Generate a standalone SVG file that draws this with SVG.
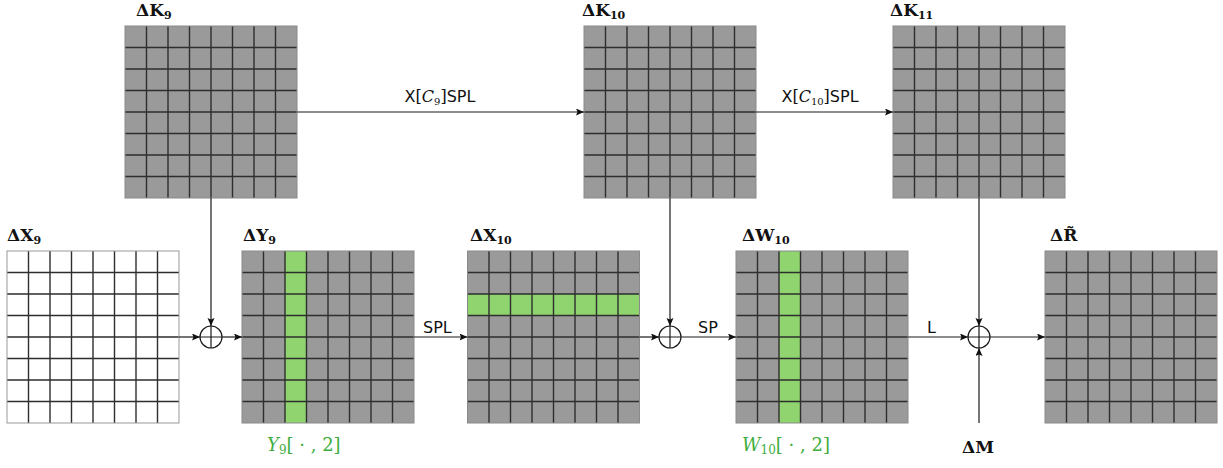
<svg xmlns="http://www.w3.org/2000/svg" width="1223" height="468" viewBox="0 0 1223 468">
<style>
.bg{fill:#9a9a9a}
.wbg{fill:#ffffff}
.hl{fill:#8fd46e}
.gl{fill:none;stroke:#2e2e2e;stroke-width:1.4}
.bd{fill:none;stroke:#8a8a8a;stroke-width:1}
.wbd{fill:none;stroke:#999;stroke-width:1}
.cn{fill:none;stroke:#1a1a1a;stroke-width:1.2}
.xo{fill:none;stroke:#1a1a1a;stroke-width:1.2}
.lbl{font-family:"DejaVu Serif","Liberation Serif",serif;font-weight:bold;font-size:17px;fill:#111}
.sub{font-size:11px}
.op{font-family:"DejaVu Sans","Liberation Sans",sans-serif;font-size:16px;fill:#111}
.mth{font-family:"DejaVu Serif","Liberation Serif",serif;fill:#111}
.grn{font-family:"DejaVu Serif","Liberation Serif",serif;font-size:18px;fill:#3fae3f}
</style>
<defs>
<marker id="arr" markerWidth="9" markerHeight="8" refX="8" refY="3.5" orient="auto" markerUnits="userSpaceOnUse">
<path d="M0,0 L8,3.5 L0,7 L1.5,3.5 z" fill="#111"/>
</marker>
<path id="lines" d="M21.5,0V172M43,0V172M64.5,0V172M86,0V172M107.5,0V172M129,0V172M150.5,0V172M0,21.5H172M0,43H172M0,64.5H172M0,86H172M0,107.5H172M0,129H172M0,150.5H172"/>
</defs>

<g id="K9">
<rect class="bg" x="125" y="26" width="172" height="172"/>
<use href="#lines" class="gl" x="125" y="26"/>
<rect class="bd" x="125" y="26" width="172" height="172"/>
<text class="lbl" x="136" y="16">ΔK<tspan class="sub" dy="3">9</tspan></text>
</g>

<g id="K10">
<rect class="bg" x="584" y="26" width="172" height="172"/>
<use href="#lines" class="gl" x="584" y="26"/>
<rect class="bd" x="584" y="26" width="172" height="172"/>
<text class="lbl" x="582" y="16">ΔK<tspan class="sub" dy="3">10</tspan></text>
</g>

<g id="K11">
<rect class="bg" x="893" y="26" width="172" height="172"/>
<use href="#lines" class="gl" x="893" y="26"/>
<rect class="bd" x="893" y="26" width="172" height="172"/>
<text class="lbl" x="890" y="16">ΔK<tspan class="sub" dy="3">11</tspan></text>
</g>

<g id="X9">
<rect class="wbg" x="7" y="251" width="172" height="172"/>
<use href="#lines" class="gl" x="7" y="251"/>
<rect class="wbd" x="7" y="251" width="172" height="172"/>
<text class="lbl" x="7" y="241">ΔX<tspan class="sub" dy="3">9</tspan></text>
</g>

<g id="Y9">
<rect class="bg" x="242" y="251" width="172" height="172"/>
<rect class="hl" x="285" y="251" width="21.5" height="172"/>
<use href="#lines" class="gl" x="242" y="251"/>
<rect class="bd" x="242" y="251" width="172" height="172"/>
<text class="lbl" x="243" y="241">ΔY<tspan class="sub" dy="3">9</tspan></text>
<text class="grn" x="267" y="451"><tspan font-style="italic">Y</tspan><tspan font-size="12" dy="3">9</tspan><tspan dy="-3">[ · , 2]</tspan></text>
</g>

<g id="X10">
<rect class="bg" x="467.5" y="251" width="172" height="172"/>
<rect class="hl" x="467.5" y="294" width="172" height="21.5"/>
<use href="#lines" class="gl" x="467.5" y="251"/>
<rect class="bd" x="467.5" y="251" width="172" height="172"/>
<text class="lbl" x="470" y="241">ΔX<tspan class="sub" dy="3">10</tspan></text>
</g>

<g id="W10">
<rect class="bg" x="736" y="251" width="172" height="172"/>
<rect class="hl" x="779" y="251" width="21.5" height="172"/>
<use href="#lines" class="gl" x="736" y="251"/>
<rect class="bd" x="736" y="251" width="172" height="172"/>
<text class="lbl" x="742" y="241">ΔW<tspan class="sub" dy="3">10</tspan></text>
<text class="grn" x="742" y="451"><tspan font-style="italic">W</tspan><tspan font-size="12" dy="3">10</tspan><tspan dy="-3">[ · , 2]</tspan></text>
</g>

<g id="R">
<rect class="bg" x="1045" y="251" width="172" height="172"/>
<use href="#lines" class="gl" x="1045" y="251"/>
<rect class="bd" x="1045" y="251" width="172" height="172"/>
<text class="lbl" x="1050" y="241">ΔR̃</text>
</g>

<g id="xor1">
<circle class="xo" cx="211" cy="337" r="11"/>
<path class="xo" d="M200,337H222M211,326V348"/>
</g>
<g id="xor2">
<circle class="xo" cx="670" cy="337" r="11"/>
<path class="xo" d="M659,337H681M670,326V348"/>
</g>
<g id="xor3">
<circle class="xo" cx="979" cy="337" r="11"/>
<path class="xo" d="M968,337H990M979,326V348"/>
</g>

<g id="M">
<text class="lbl" x="962" y="453">ΔM</text>
</g>

<g id="connectors">
<line class="cn" x1="297" y1="112" x2="584" y2="112" marker-end="url(#arr)"/>
<line class="cn" x1="756" y1="112" x2="893" y2="112" marker-end="url(#arr)"/>
<line class="cn" x1="211" y1="198" x2="211" y2="326" marker-end="url(#arr)"/>
<line class="cn" x1="670" y1="198" x2="670" y2="326" marker-end="url(#arr)"/>
<line class="cn" x1="979" y1="198" x2="979" y2="326" marker-end="url(#arr)"/>
<line class="cn" x1="179" y1="337" x2="200" y2="337" marker-end="url(#arr)"/>
<line class="cn" x1="222" y1="337" x2="242" y2="337" marker-end="url(#arr)"/>
<line class="cn" x1="414" y1="337" x2="467.5" y2="337" marker-end="url(#arr)"/>
<line class="cn" x1="639.5" y1="337" x2="659" y2="337" marker-end="url(#arr)"/>
<line class="cn" x1="681" y1="337" x2="736" y2="337" marker-end="url(#arr)"/>
<line class="cn" x1="908" y1="337" x2="968" y2="337" marker-end="url(#arr)"/>
<line class="cn" x1="990" y1="337" x2="1045" y2="337" marker-end="url(#arr)"/>
<line class="cn" x1="979" y1="423" x2="979" y2="348" marker-end="url(#arr)"/>
<text class="op" x="440" y="102" text-anchor="middle">X<tspan class="mth">[</tspan><tspan class="mth" font-style="italic">C</tspan><tspan class="mth" font-size="10" dy="3">9</tspan><tspan class="mth" dy="-3">]</tspan>SPL</text>
<text class="op" x="820" y="102" text-anchor="middle">X<tspan class="mth">[</tspan><tspan class="mth" font-style="italic">C</tspan><tspan class="mth" font-size="10" dy="3">10</tspan><tspan class="mth" dy="-3">]</tspan>SPL</text>
<text class="op" x="423" y="333">SPL</text>
<text class="op" x="698" y="333">SP</text>
<text class="op" x="927" y="333">L</text>
</g>
</svg>
